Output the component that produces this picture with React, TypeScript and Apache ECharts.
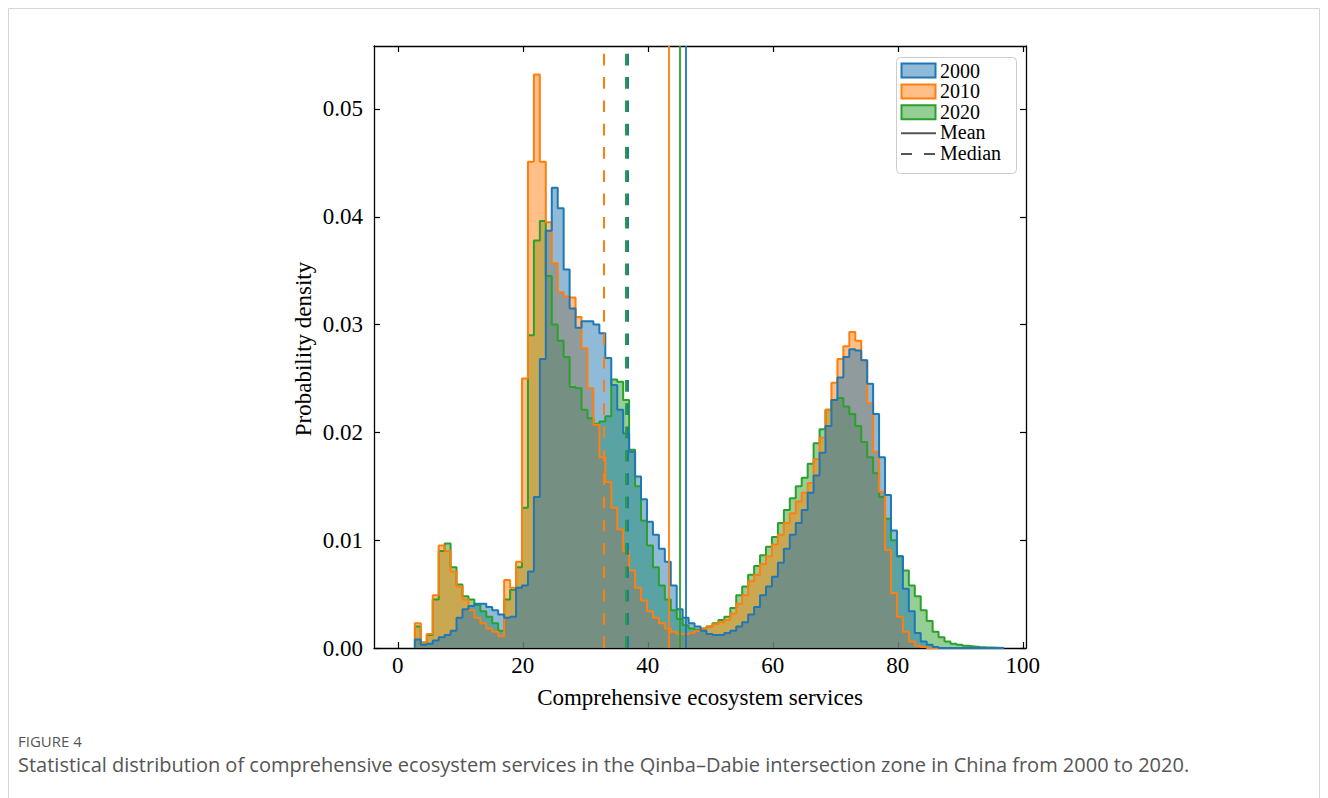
import React, { useEffect, useRef } from "react";
import * as echarts from "echarts";

// Histogram bins (common to the three years)
const BIN_START = 2.74;
const BIN_WIDTH = 0.952;

const years = ["2000", "2010", "2020"];
const colors = ["#1f77b4", "#ff7f0e", "#2ca02c"];
const fills = ["rgba(31,119,180,0.5)", "rgba(255,127,14,0.5)", "rgba(44,160,44,0.5)"];

const density2000 = [
  0.0008, 0.0003, 0.0004, 0.0007, 0.0010, 0.0012, 0.0016, 0.0028, 0.0036, 0.0039,
  0.0041, 0.0041, 0.0038, 0.0035, 0.0031, 0.0028, 0.0029, 0.0056, 0.0058, 0.0071,
  0.0140, 0.0268, 0.0387, 0.0427, 0.0408, 0.0351, 0.0315, 0.0297, 0.0303, 0.0303,
  0.0300, 0.0292, 0.0269, 0.0244, 0.0221, 0.0199, 0.0182, 0.0159, 0.0138, 0.0117,
  0.0105, 0.0092, 0.0080, 0.0058, 0.0036, 0.0028, 0.0023, 0.0020, 0.0016, 0.0013,
  0.0012, 0.0012, 0.0014, 0.0016, 0.0020, 0.0024, 0.0031, 0.0038, 0.0049, 0.0057,
  0.0066, 0.0079, 0.0092, 0.0105, 0.0116, 0.0128, 0.0144, 0.0160, 0.0181, 0.0206,
  0.0230, 0.0251, 0.0270, 0.0277, 0.0276, 0.0267, 0.0245, 0.0217, 0.0177, 0.0142,
  0.0109, 0.0085, 0.0055, 0.0034, 0.0014, 0.0006, 0.0003, 0.0001, 0, 0,
  0, 0, 0, 0, 0, 0, 0, 0, 0,
];

const density2010 = [
  0.0023, 0.0005, 0.0013, 0.0049, 0.0095, 0.0090, 0.0071, 0.0057, 0.0045, 0.0035,
  0.0028, 0.0023, 0.0018, 0.0015, 0.0011, 0.0063, 0.0056, 0.0080, 0.0250, 0.0451,
  0.0532, 0.0451, 0.0395, 0.0357, 0.0330, 0.0326, 0.0325, 0.0307, 0.0278, 0.0241,
  0.0207, 0.0177, 0.0154, 0.0130, 0.0110, 0.0090, 0.0072, 0.0056, 0.0044, 0.0034,
  0.0028, 0.0023, 0.0018, 0.0015, 0.0013, 0.0013, 0.0014, 0.0016, 0.0018, 0.0020,
  0.0022, 0.0024, 0.0026, 0.0032, 0.0041, 0.0049, 0.0062, 0.0068, 0.0078, 0.0085,
  0.0096, 0.0105, 0.0116, 0.0125, 0.0136, 0.0144, 0.0153, 0.0175, 0.0195, 0.0221,
  0.0246, 0.0268, 0.0280, 0.0293, 0.0285, 0.0267, 0.0227, 0.0182, 0.0145, 0.0091,
  0.0051, 0.0029, 0.0015, 0.0006, 0.0002, 0.0001, 0, 0, 0, 0,
  0, 0, 0, 0, 0, 0, 0, 0, 0,
];

const density2020 = [
  0.0020, 0.0005, 0.0012, 0.0045, 0.0090, 0.0097, 0.0075, 0.0059, 0.0048, 0.0045,
  0.0040, 0.0034, 0.0029, 0.0023, 0.0016, 0.0045, 0.0054, 0.0075, 0.0130, 0.0290,
  0.0378, 0.0396, 0.0345, 0.0300, 0.0285, 0.0270, 0.0242, 0.0241, 0.0221, 0.0213,
  0.0208, 0.0210, 0.0215, 0.0249, 0.0247, 0.0230, 0.0184, 0.0150, 0.0118, 0.0095,
  0.0075, 0.0058, 0.0045, 0.0035, 0.0027, 0.0021, 0.0018, 0.0017, 0.0018, 0.0020,
  0.0023, 0.0026, 0.0029, 0.0037, 0.0049, 0.0057, 0.0068, 0.0076, 0.0086, 0.0094,
  0.0103, 0.0116, 0.0128, 0.0139, 0.0150, 0.0158, 0.0171, 0.0190, 0.0203, 0.0221,
  0.0230, 0.0232, 0.0224, 0.0217, 0.0206, 0.0191, 0.0177, 0.0162, 0.0140, 0.0120,
  0.0100, 0.0085, 0.0072, 0.0058, 0.0048, 0.0035, 0.0025, 0.0015, 0.0010, 0.0006,
  0.0004, 0.0003, 0.0002, 0.00015, 0.0001, 0.00006, 0.00004, 0.00002, 0,
];

const meanValues = [46.1, 43.42, 45.09];
const medianValues = [36.86, 33.02, 36.5];

const xTicks = [0, 20, 40, 60, 80, 100];
const yTicks = [0, 0.01, 0.02, 0.03, 0.04, 0.05];

const X_MIN = -3.8;
const X_MAX = 100.5;
const Y_MAX = 0.05584;

function stepPoints(vals: number[]) {
  const pts: number[][] = [[BIN_START, 0]];
  vals.forEach((v, i) => {
    const a = BIN_START + i * BIN_WIDTH;
    pts.push([a, v], [a + BIN_WIDTH, v]);
  });
  pts.push([BIN_START + vals.length * BIN_WIDTH, 0]);
  return pts;
}

const SERIF = "'Liberation Serif', 'Times New Roman', serif";
const SANS = "'Open Sans', 'Noto Sans', sans-serif";

export default function App() {
  const ref = useRef<HTMLDivElement>(null);
  useEffect(() => {
    if (!ref.current) return;
    const chart = echarts.init(ref.current, null, { renderer: "svg" });
    const densities = [density2000, density2010, density2020];
    const order = [2, 1, 0]; // 2020 drawn first, 2000 on top
    const histSeries = order.map((i) => ({
      type: "line",
      name: years[i],
      data: stepPoints(densities[i]),
      symbol: "none",
      showSymbol: false,
      silent: true,
      lineStyle: { color: colors[i], width: 2 },
      itemStyle: { color: colors[i] },
      areaStyle: { color: colors[i], opacity: 0.5, origin: "start" },
    }));
    const vlineData: any[] = [];
    [1, 2, 0].forEach((i) => {
      vlineData.push({ xAxis: meanValues[i], lineStyle: { color: colors[i], width: 1.8, type: "solid" } });
    });
    [1, 2, 0].forEach((i) => {
      vlineData.push({ xAxis: medianValues[i], lineStyle: { color: colors[i], width: 2, type: [11.7, 11.6] } });
    });

    const legendFont = `20px ${SERIF}`;
    const ROW = 20.9;
    const legendItems: any[] = [
      {
        type: "rect",
        shape: { x: 896.5, y: 57.5, width: 120, height: 116, r: 4 },
        style: { fill: "rgba(255,255,255,0.85)", stroke: "#cccccc", lineWidth: 1 },
      },
    ];
    years.forEach((y, i) => {
      const cy = 70.5 + ROW * i;
      legendItems.push({
        type: "rect",
        shape: { x: 901.5, y: cy - 7, width: 34, height: 14 },
        style: { fill: fills[i], stroke: colors[i], lineWidth: 2 },
      });
      legendItems.push({
        type: "text",
        x: 940,
        y: cy,
        style: { text: y, font: legendFont, lineHeight: 20, fill: "#000", verticalAlign: "middle", align: "left" },
      });
    });
    legendItems.push({
      type: "line",
      shape: { x1: 901, y1: 70.5 + ROW * 3, x2: 936, y2: 70.5 + ROW * 3 },
      style: { stroke: "#555555", lineWidth: 2 },
    });
    legendItems.push({
      type: "text",
      x: 940,
      y: 70.5 + ROW * 3 - 1,
      style: { text: "Mean", font: legendFont, lineHeight: 20, fill: "#000", verticalAlign: "middle", align: "left" },
    });
    legendItems.push({
      type: "line",
      shape: { x1: 901, y1: 70.5 + ROW * 4, x2: 936, y2: 70.5 + ROW * 4 },
      style: { stroke: "#555555", lineWidth: 2, lineDash: [11, 12] },
    });
    legendItems.push({
      type: "text",
      x: 940,
      y: 70.5 + ROW * 4 - 1,
      style: { text: "Median", font: legendFont, lineHeight: 20, fill: "#000", verticalAlign: "middle", align: "left" },
    });

    const axisCommon = {
      type: "value",
      axisLine: { show: true, onZero: false, lineStyle: { color: "#000", width: 1.3 } },
      axisTick: { show: true, inside: true, length: 6, lineStyle: { color: "#000", width: 1.2 } },
      splitLine: { show: false },
    };

    chart.setOption({
      animation: false,
      backgroundColor: "#ffffff",
      grid: { left: 374, top: 46, width: 652, height: 602, containLabel: false },
      xAxis: [
        {
          ...axisCommon,
          position: "bottom",
          min: X_MIN,
          max: X_MAX,
          axisTick: { ...axisCommon.axisTick, customValues: xTicks },
          axisLabel: {
            customValues: xTicks,
            margin: 6,
            color: "#000",
            fontFamily: SERIF,
            fontSize: 23,
          },
        },
        {
          ...axisCommon,
          position: "top",
          min: X_MIN,
          max: X_MAX,
          axisTick: { ...axisCommon.axisTick, customValues: xTicks },
          axisLabel: { show: false },
        },
      ],
      yAxis: [
        {
          ...axisCommon,
          position: "left",
          min: 0,
          max: Y_MAX,
          axisTick: { ...axisCommon.axisTick, customValues: yTicks },
          axisLabel: {
            customValues: yTicks,
            margin: 11,
            color: "#000",
            fontFamily: SERIF,
            fontSize: 23,
            formatter: (v: number) => v.toFixed(2),
          },
        },
        {
          ...axisCommon,
          position: "right",
          min: 0,
          max: Y_MAX,
          axisTick: { ...axisCommon.axisTick, customValues: yTicks },
          axisLabel: { show: false },
        },
      ],
      series: [
        ...histSeries,
        {
          type: "line",
          name: "stats",
          data: [],
          silent: true,
          markLine: {
            silent: true,
            symbol: "none",
            label: { show: false },
            emphasis: { disabled: true },
            data: vlineData,
          },
        },
      ],
      graphic: [
        {
          type: "rect",
          shape: { x: 8.5, y: 8.5, width: 1311, height: 900 },
          style: { fill: "none", stroke: "#d6d6d6", lineWidth: 1 },
          silent: true,
        },
        {
          type: "text",
          x: 700,
          y: 697,
          style: {
            text: "Comprehensive ecosystem services",
            font: `23px ${SERIF}`,
            fill: "#000",
            align: "center",
            verticalAlign: "middle",
          },
        },
        {
          type: "text",
          x: 303,
          y: 349,
          rotation: Math.PI / 2,
          style: {
            text: "Probability density",
            font: `23px ${SERIF}`,
            fill: "#000",
            align: "center",
            verticalAlign: "middle",
          },
        },
        ...legendItems,
        {
          type: "text",
          x: 18,
          y: 741,
          style: {
            text: "FIGURE 4",
            font: `15px ${SANS}`,
            fill: "#555555",
            verticalAlign: "middle",
          },
        },
        {
          type: "text",
          x: 18,
          y: 764,
          style: {
            text: "Statistical distribution of comprehensive ecosystem services in the Qinba\u2013Dabie intersection zone in China from 2000 to 2020.",
            font: `20px ${SANS}`,
            fill: "#555555",
            verticalAlign: "middle",
          },
        },
      ],
    });
    return () => chart.dispose();
  }, []);
  return (
    <div
      ref={ref}
      style={{ position: "absolute", left: 0, top: 0, width: 1328, height: 798, background: "#fff" }}
    />
  );
}
